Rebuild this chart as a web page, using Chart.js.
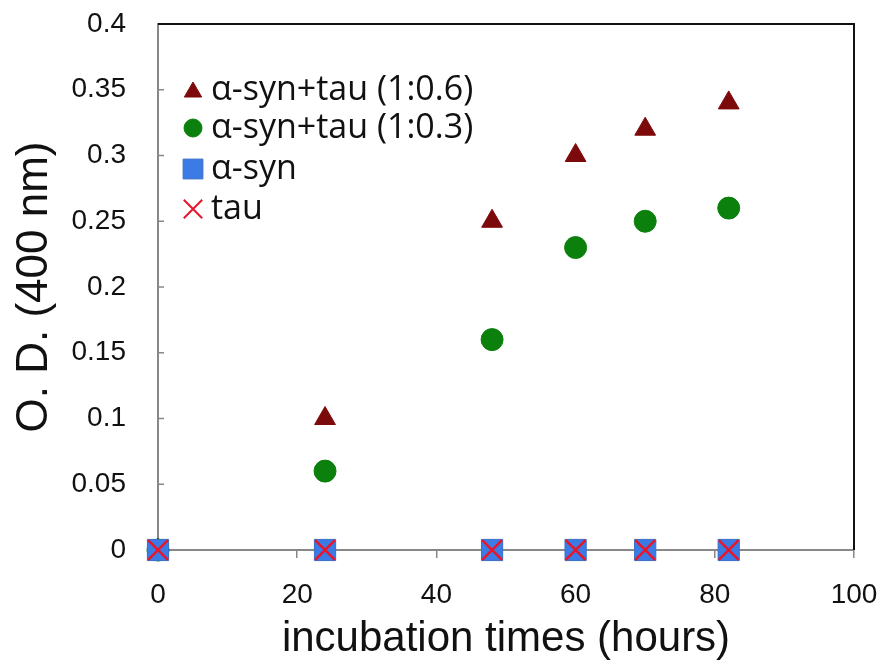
<!DOCTYPE html>
<html>
<head>
<meta charset="utf-8">
<script src="https://cdn.jsdelivr.net/npm/chart.js@4"></script>
<style>
  html, body { margin: 0; padding: 0; background: #fff; }
  #wrap { width: 885px; height: 671px; }
</style>
</head>
<body>
<div id="wrap"><canvas id="odChart"></canvas></div>
<script>
// incubation times (hours)
const times = [0, 24, 48, 60, 70, 82];
// O.D. at 400 nm per series
const synTau06 = [0, 0.10, 0.25, 0.30, 0.32, 0.34];
const synTau03 = [0, 0.06, 0.16, 0.23, 0.25, 0.26];
const synOnly = [0, 0, 0, 0, 0, 0];
const tauOnly = [0, 0, 0, 0, 0, 0];
const seriesLabels = ['α-syn+tau (1:0.6)', 'α-syn+tau (1:0.3)', 'α-syn', 'tau'];
const yTicks = [0, 0.05, 0.1, 0.15, 0.2, 0.25, 0.3, 0.35, 0.4];
const xTicks = [0, 20, 40, 60, 80, 100];

const pts = vals => times.map((t, i) => ({ x: t, y: vals[i] }));
const FONT = "'Liberation Sans', Arial, sans-serif";

// the scales add tick padding to their edge padding; the layout padding below sets the plot box
const noEdgePad = s => { s.paddingTop = 0; s.paddingBottom = 0; s.paddingLeft = 0; s.paddingRight = 0; };

// frame on top/right, small inward ticks on y, legend inside the plot
const framePlugin = {
    id: 'frame',
    beforeDatasetsDraw(chart) {
        const { ctx, chartArea: a, scales } = chart;
        ctx.save();
        ctx.strokeStyle = '#888';
        ctx.lineWidth = 1.5;
        yTicks.forEach(v => {
            const y = scales.y.getPixelForValue(v);
            ctx.beginPath();
            ctx.moveTo(a.left, y);
            ctx.lineTo(a.left + 6, y);
            ctx.stroke();
        });
        ctx.strokeStyle = '#111';
        ctx.lineWidth = 2;
        ctx.beginPath();
        ctx.moveTo(a.left, a.top);
        ctx.lineTo(a.right, a.top);
        ctx.lineTo(a.right, a.bottom);
        ctx.stroke();
        ctx.restore();
    },
    afterDatasetsDraw(chart) {
        const { ctx, chartArea: a } = chart;
        ctx.save();
        ctx.font = "34px 'Open Sans', sans-serif";
        ctx.textBaseline = 'middle';
        const legendR = [10, 9, 14, 13];
        const rowY = [90, 128, 169, 209];
        chart.data.datasets.forEach((ds, i) => {
            const y = rowY[i];
            const x = a.left + 35;
            ctx.fillStyle = ds.backgroundColor;
            ctx.strokeStyle = ds.borderColor;
            ctx.lineWidth = ds.pointStyle === 'crossRot' ? 2 : 1;
            Chart.helpers.drawPoint(ctx, { pointStyle: ds.pointStyle, radius: legendR[i], borderWidth: ctx.lineWidth }, x, y + (i === 0 ? 2 : 0));
            ctx.fillStyle = '#111';
            ctx.fillText(ds.label, a.left + 53, y);
        });
        ctx.restore();
    }
};

new Chart(document.getElementById('odChart'), {
    type: 'scatter',
    data: {
        datasets: [
            { label: seriesLabels[0], data: pts(synTau06), pointStyle: 'triangle', pointRadius: 12,
              backgroundColor: '#7d0a0a', borderColor: '#7d0a0a', borderWidth: 1, order: 3 },
            { label: seriesLabels[1], data: pts(synTau03), pointStyle: 'circle', pointRadius: 11,
              backgroundColor: '#0c800c', borderColor: '#0c800c', borderWidth: 1, order: 2 },
            { label: seriesLabels[2], data: pts(synOnly), pointStyle: 'rect', pointRadius: 15,
              backgroundColor: '#3b7be6', borderColor: '#3a6fc8', borderWidth: 1, order: 1 },
            { label: seriesLabels[3], data: pts(tauOnly), pointStyle: 'crossRot', pointRadius: 14,
              backgroundColor: '#e8162b', borderColor: '#e8162b', borderWidth: 2.5, order: 0 }
        ]
    },
    options: {
        responsive: true, maintainAspectRatio: false, animation: false,
        clip: false,
        layout: { padding: { left: 0, right: 31, top: 24, bottom: 0 } },
        plugins: { legend: { display: false }, tooltip: { enabled: false } },
        scales: {
            x: {
                type: 'linear', min: 0, max: 100,
                afterBuildTicks: s => { s.ticks = xTicks.map(v => ({ value: v })); },
                afterFit: s => { s.height = 121; noEdgePad(s); },
                grid: { drawOnChartArea: false, drawTicks: true, tickLength: 8, color: '#888', lineWidth: 1.5 },
                border: { display: true, color: '#888', width: 2 },
                ticks: { color: '#111', font: { family: FONT, size: 28 }, padding: 20 },
                title: { display: true, text: 'incubation times (hours)', color: '#111',
                         font: { family: FONT, size: 42 }, padding: { top: 4, bottom: 6 } }
            },
            y: {
                min: 0, max: 0.4,
                afterBuildTicks: s => { s.ticks = yTicks.map(v => ({ value: v })); },
                afterFit: s => { s.width = 158; noEdgePad(s); },
                grid: { drawOnChartArea: false, drawTicks: false },
                border: { display: true, color: '#888', width: 2 },
                ticks: { color: '#111', font: { family: FONT, size: 28 }, padding: 32,
                         callback: v => String(v) },
                title: { display: true, text: 'O. D. (400 nm)', color: '#111',
                         font: { family: FONT, size: 44 }, padding: { top: 8, bottom: 4 } }
            }
        }
    },
    plugins: [framePlugin]
});
</script>
</body>
</html>
